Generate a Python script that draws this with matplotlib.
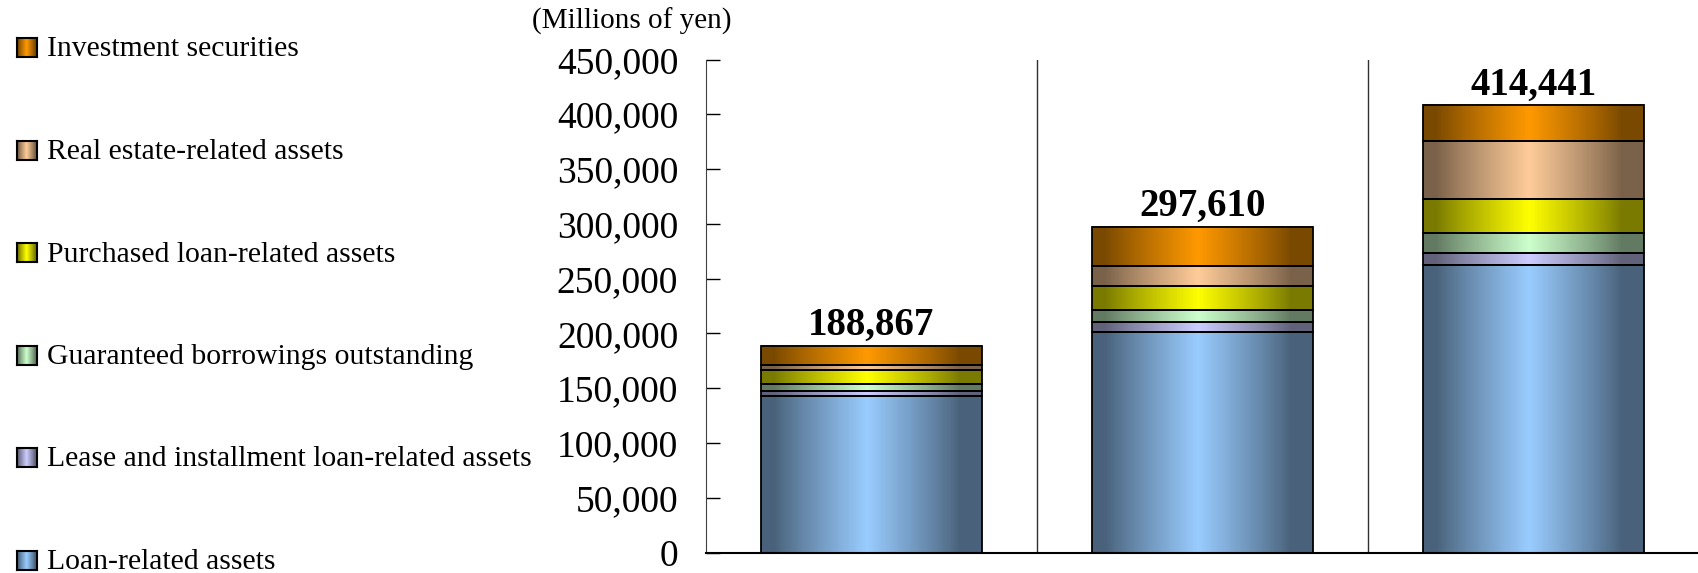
import numpy as np
import matplotlib
matplotlib.use('Agg')
import matplotlib.pyplot as plt
from matplotlib.colors import to_rgb
from matplotlib.ticker import FuncFormatter

plt.rcParams['font.family'] = ['Liberation Serif', 'DejaVu Serif']

# data (millions of yen), bottom to top of each stack
periods = ['Period 1', 'Period 2', 'Period 3']
series = ['Loan-related assets', 'Lease and installment loan-related assets',
          'Guaranteed borrowings outstanding', 'Purchased loan-related assets',
          'Real estate-related assets', 'Investment securities']
loan = [142900, 201300, 262100]
lease = [4800, 8800, 11500]
guaranteed = [5800, 10900, 17900]
purchased = [13000, 21900, 31000]
real_estate = [4600, 19100, 53200]
investment = [17767, 35610, 32900]
total_labels = ['188,867', '297,610', '414,441']
yticks = [0, 50000, 100000, 150000, 200000, 250000, 300000, 350000, 400000, 450000]

colors = ['#99CCFF', '#CCCCFF', '#CCFFCC', '#FFFF00', '#FFCC99', '#FF9900']
stack = [loan, lease, guaranteed, purchased, real_estate, investment]


def shade(color, n=256):
    # dark edges, light centre, like a cylinder
    base = np.array(to_rgb(color))
    u = np.linspace(0, 1, n)
    t = np.clip(1 - np.abs(u - 0.48) / 0.42, 0, 1) ** 0.9
    dark = base * 0.48
    rgb = dark[None, :] + (base - dark)[None, :] * t[:, None]
    return rgb[None, :, :]


fig = plt.figure(figsize=(16.99, 5.73), dpi=100)
ax = fig.add_axes([706 / 1699, 20.4 / 573, 993 / 1699, 493 / 573])

x = np.arange(len(periods))
width = 0.667
bottom = np.zeros(len(periods))
for vals, c in zip(stack, colors):
    bars = ax.bar(x, vals, width, bottom=bottom, color='none', edgecolor='black',
                  linewidth=1.3, zorder=3)
    for p in bars:
        ax.imshow(shade(c), extent=(p.get_x(), p.get_x() + p.get_width(),
                                    p.get_y(), p.get_y() + p.get_height()),
                  aspect='auto', interpolation='bilinear', zorder=2)
    bottom += np.array(vals)

for xi, top, lab in zip(x, bottom, total_labels):
    ax.annotate(lab, (xi, top), xytext=(0, 1), textcoords='offset points',
                ha='center', va='bottom', fontsize=28, fontweight='bold')

for sep in x[:-1] + 0.5:
    ax.axvline(sep, color='#303030', linewidth=1, zorder=1)

ax.set_xlim(-0.5, len(periods) - 0.5)
ax.set_ylim(0, 450000)
ax.set_yticks(yticks)
ax.yaxis.set_major_formatter(FuncFormatter(lambda v, pos: f'{v:,.0f}'))
ax.tick_params(axis='y', direction='in', length=10, width=1, pad=20, labelsize=27)
ax.set_xticks([])
for s in ['top', 'right']:
    ax.spines[s].set_visible(False)
ax.spines['left'].set_color('#404040')
ax.spines['bottom'].set_linewidth(1.5)

fig.text(632 / 1699, 1 - 21.5 / 573, '(Millions of yen)', ha='center', va='center',
         fontsize=21)

# legend, top entry is the top of the stack
for k, (name, c) in enumerate(zip(series[::-1], colors[::-1])):
    yc = 47.5 + 102.5 * k
    sq = fig.add_axes([17.5 / 1699, 1 - (yc + 9.5) / 573, 20 / 1699, 19 / 573])
    sq.imshow(shade(c), aspect='auto', interpolation='bilinear')
    sq.set_xticks([])
    sq.set_yticks([])
    for sp in sq.spines.values():
        sp.set_linewidth(1.5)
    fig.text(47.5 / 1699, 1 - (yc + 2) / 573, name, ha='left', va='center', fontsize=21.4)

fig.savefig('out.png', dpi=100)
